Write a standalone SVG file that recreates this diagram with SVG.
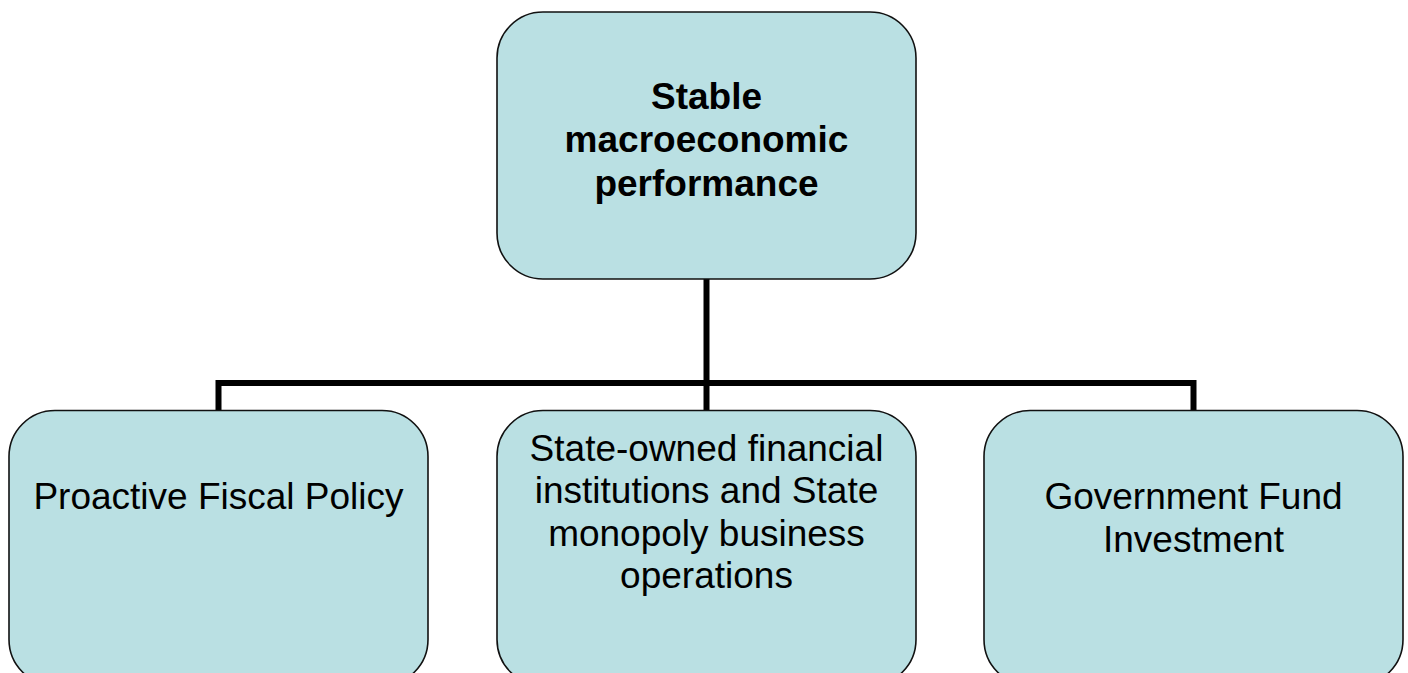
<svg xmlns="http://www.w3.org/2000/svg" width="1408" height="673" viewBox="0 0 1408 673">
  <style>
    .box { fill: #BAE0E3; stroke: #111111; stroke-width: 1.6; }
    .lbl { font-family: "Liberation Sans", Arial, sans-serif; font-size: 37px; fill: #000000; text-anchor: middle; }
    .bold { font-weight: bold; }
    .wire { fill: none; stroke: #000000; stroke-width: 6; stroke-linejoin: miter; stroke-linecap: butt; }
  </style>
  <rect width="1408" height="673" fill="#FFFFFF"/>

  <!-- tree connectors: trunk from the root and the bracket to the three branches -->
  <g id="connectors">
    <path class="wire" d="M706.5 279 L706.5 383"/>
    <path class="wire" d="M218.5 410 L218.5 383 L1193.5 383 L1193.5 410"/>
    <path class="wire" d="M706.5 383 L706.5 410"/>
  </g>

  <g id="root">
    <rect class="box" x="497" y="12" width="419" height="267" rx="46" ry="46"/>
    <text class="lbl bold" x="706.5" y="109">Stable</text>
    <text class="lbl bold" x="706.5" y="152">macroeconomic</text>
    <text class="lbl bold" x="706.5" y="196">performance</text>
  </g>

  <g id="fiscal-policy">
    <rect class="box" x="9" y="410.5" width="419" height="275" rx="46" ry="46"/>
    <text class="lbl" x="218.5" y="509">Proactive Fiscal Policy</text>
  </g>

  <g id="state-institutions">
    <rect class="box" x="497" y="410.5" width="419" height="275" rx="46" ry="46"/>
    <text class="lbl" x="706.5" y="461">State-owned financial</text>
    <text class="lbl" x="706.5" y="503">institutions and State</text>
    <text class="lbl" x="706.5" y="546">monopoly business</text>
    <text class="lbl" x="706.5" y="588">operations</text>
  </g>

  <g id="fund-investment">
    <rect class="box" x="984" y="410.5" width="419" height="275" rx="46" ry="46"/>
    <text class="lbl" x="1193.5" y="509">Government Fund</text>
    <text class="lbl" x="1193.5" y="552">Investment</text>
  </g>
</svg>
